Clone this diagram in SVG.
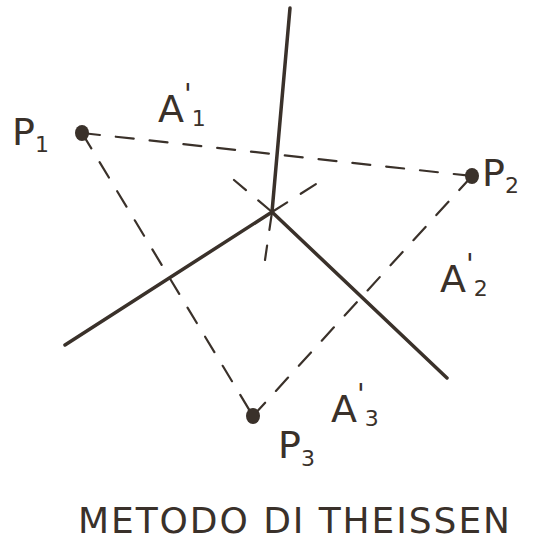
<svg xmlns="http://www.w3.org/2000/svg" width="533" height="541" viewBox="0 0 533 541">
<style>
.solid{stroke:#3a312a;stroke-width:3.5;stroke-linecap:round;fill:none}
.dash{stroke:#3a312a;stroke-width:2.2;stroke-dasharray:18 16;stroke-linecap:round;fill:none}
.pt{fill:#3a312a}
.lbl{font-family:"DejaVu Sans","Liberation Sans",sans-serif;fill:#3a312a;font-weight:normal}
.big{font-size:38px}
.sub{font-size:22px}
.pr{font-size:28px}
</style>
<rect width="533" height="541" fill="#ffffff"/>
<g id="connectors">
<line class="dash" x1="82" y1="133" x2="472" y2="176"/>
<line class="dash" x1="82" y1="133" x2="253" y2="416"/>
<line class="dash" x1="253" y1="416" x2="472" y2="176"/>
<line class="dash" x1="272" y1="212" x2="234" y2="180" stroke-dasharray="12 10"/>
<line class="dash" x1="272" y1="212" x2="316" y2="184" stroke-dasharray="10 12"/>
<line class="dash" x1="272" y1="212" x2="265" y2="260" stroke-dasharray="10 14"/>
<line class="solid" x1="290" y1="8" x2="272" y2="212"/>
<line class="solid" x1="272" y1="212" x2="65" y2="345"/>
<line class="solid" x1="272" y1="212" x2="447" y2="378"/>
</g>
<g id="P1">
<ellipse class="pt" cx="82" cy="133" rx="7" ry="8"/>
<text class="lbl big" x="12" y="145">P<tspan class="sub" dy="7">1</tspan></text>
</g>
<g id="P2">
<ellipse class="pt" cx="472" cy="176" rx="7" ry="8"/>
<text class="lbl big" x="482" y="186">P<tspan class="sub" dy="7">2</tspan></text>
</g>
<g id="P3">
<ellipse class="pt" cx="253" cy="416" rx="7" ry="8"/>
<text class="lbl big" x="278" y="458">P<tspan class="sub" dy="8">3</tspan></text>
</g>
<g id="A1">
<text class="lbl big" x="158" y="122">A<tspan class="pr" dy="-18">'</tspan><tspan class="sub" dy="22">1</tspan></text>
</g>
<g id="A2">
<text class="lbl big" x="440" y="292">A<tspan class="pr" dy="-18">'</tspan><tspan class="sub" dy="22">2</tspan></text>
</g>
<g id="A3">
<text class="lbl big" x="331" y="422">A<tspan class="pr" dy="-18">'</tspan><tspan class="sub" dy="22">3</tspan></text>
</g>
<g id="title">
<text class="lbl" x="78" y="533" font-size="36" textLength="432" lengthAdjust="spacing">METODO DI THEISSEN</text>
</g>
</svg>
